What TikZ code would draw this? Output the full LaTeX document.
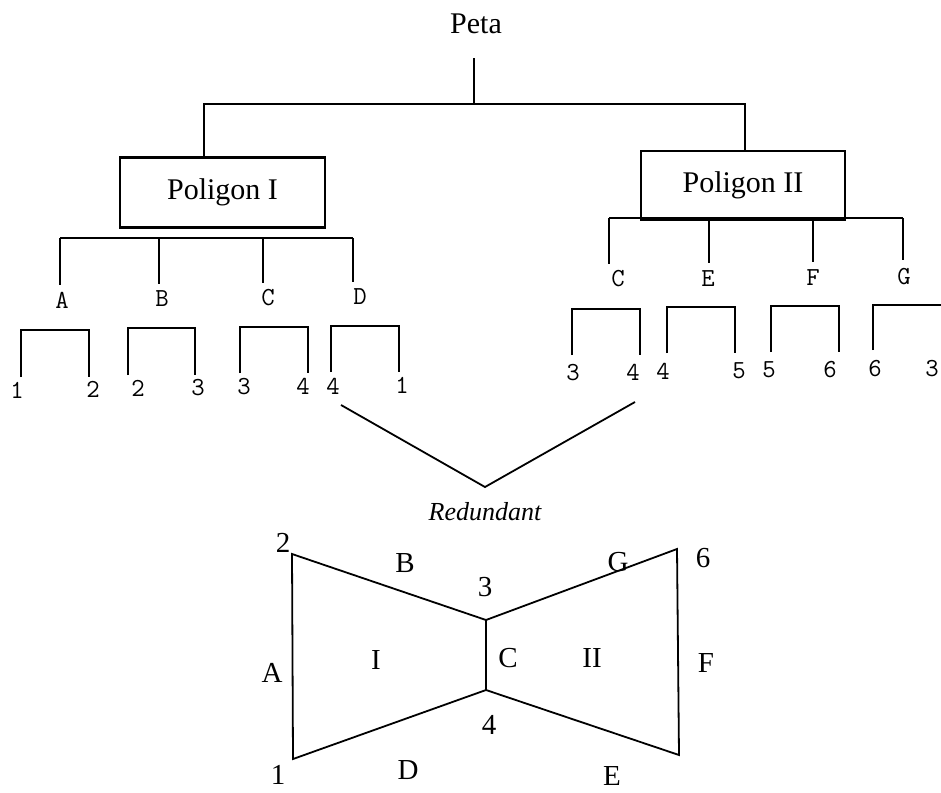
\documentclass[tikz,border=0pt]{standalone}
\usepackage{fontspec}
\setmainfont{Liberation Serif}
\begin{document}
\begin{tikzpicture}[x=1pt,y=-1pt,
  tree/.style={line width=2.2pt},
  edge/.style={line width=1.8pt, line join=miter},
  serif/.style={font=\fontsize{29}{31}\selectfont, inner sep=0pt},
  slant/.style={font=\itshape\fontsize{26}{28}\selectfont, inner sep=0pt},
  mono/.style={font=\ttfamily\fontsize{26}{28}\selectfont, inner sep=0pt},
  polybox/.style={draw, line width=2.2pt, minimum width=205pt, minimum height=70pt,
    font=\fontsize{30}{32}\selectfont}]
\useasboundingbox (0,0) rectangle (941,792);

% root and the two polygon boxes
\node[font=\fontsize{30}{32}\selectfont, inner sep=0pt] (peta) at (476,24) {Peta};
\node[polybox] (pI) at (222.5,192.5) {Poligon I};
\node[polybox, minimum width=204pt, minimum height=69pt] (pII) at (743,185.5) {Poligon II};
\coordinate (r0) at (474,58);
\coordinate (hub) at (474,104);
\coordinate (jl) at (204,104);
\coordinate (jr) at (745,104);
\draw[tree] (r0) -- (hub);
\draw[tree] (jl |- pI.north) -- (jl) -- (jr) -- (jr |- pII.north);

% edges of polygon I
\node[mono] (eA) at (62,300) {A};
\node[mono] (eB) at (162,299) {B};
\node[mono] (eC) at (268,298) {C};
\node[mono] (eD) at (360,297) {D};
\coordinate (hl) at (60,238);
\coordinate (hr) at (353,238);
\coordinate (vA) at (60,285);
\coordinate (vB) at (159,284);
\coordinate (vC) at (263,283);
\coordinate (vD) at (353,282);
\draw[tree] (hl) -- (hr);
\foreach \v in {vA,vB,vC,vD} \draw[tree] (\v |- hl) -- (\v);

% vertex pairs of polygon I
\node[mono] (a1) at (17,390) {1};
\node[mono] (a2) at (93,389) {2};
\node[mono] (b1) at (138,388) {2};
\node[mono] (b2) at (198,388) {3};
\node[mono] (c1) at (244,387) {3};
\node[mono] (c2) at (303,386) {4};
\node[mono] (d1) at (333,386) {4};
\node[mono] (d2) at (402,385) {1};
\coordinate (ka1) at (21,377);  \coordinate (ka2) at (89,377);
\coordinate (kb1) at (128,375); \coordinate (kb2) at (195,375);
\coordinate (kc1) at (240,373); \coordinate (kc2) at (308,373);
\coordinate (kd1) at (331,372); \coordinate (kd2) at (399,372);
\draw[tree] (ka1) -- ++(0,-47) -| (ka2);
\draw[tree] (kb1) -- ++(0,-47) -| (kb2);
\draw[tree] (kc1) -- ++(0,-46) -| (kc2);
\draw[tree] (kd1) -- ++(0,-46) -| (kd2);

% edges of polygon II
\node[mono] (fC) at (618,279) {C};
\node[mono] (fE) at (708,279) {E};
\node[mono] (fF) at (813,278) {F};
\node[mono] (fG) at (904,277) {G};
\coordinate (gl) at (609,218);
\coordinate (gr) at (903,218);
\coordinate (wC) at (609,264);
\coordinate (wE) at (709,263);
\coordinate (wF) at (813,262);
\coordinate (wG) at (903,260);
\draw[tree] (gl) -- (gr);
\foreach \v in {wC,wE,wF,wG} \draw[tree] (\v |- gl) -- (\v);

% vertex pairs of polygon II
\node[mono] (m1) at (573,373) {3};
\node[mono] (m2) at (633,372) {4};
\node[mono] (n1) at (663,371) {4};
\node[mono] (n2) at (739,371) {5};
\node[mono] (o1) at (769,370) {5};
\node[mono] (o2) at (830,370) {6};
\node[mono] (q1) at (875,369) {6};
\node[mono] (q2) at (932,369) {3};
\coordinate (km1) at (572,355); \coordinate (km2) at (640,355);
\coordinate (kn1) at (667,353); \coordinate (kn2) at (735,353);
\coordinate (ko1) at (771,352); \coordinate (ko2) at (839,352);
\coordinate (kq1) at (873,350); \coordinate (kq2) at (944,350);
\draw[tree] (km1) -- ++(0,-46) -| (km2);
\draw[tree] (kn1) -- ++(0,-46) -| (kn2);
\draw[tree] (ko1) -- ++(0,-46) -| (ko2);
\draw[tree] (kq1) -- ++(0,-45) -| (kq2);

% shared edge
\coordinate (rl) at (341,405);
\coordinate (rm) at (485,487);
\coordinate (rr) at (635,402);
\draw[edge] (rl) -- (rm) -- (rr);
\node[slant] (red) at (485,512) {Redundant};

% the two polygons
\coordinate (p1) at (293,759);
\coordinate (p2) at (292,554);
\coordinate (p3) at (486,620);
\coordinate (p4) at (486,690);
\coordinate (p5) at (679,755);
\coordinate (p6) at (677,549);
\draw[edge] (p2) -- (p3) -- (p6) -- (p5) -- (p4) -- (p1) -- cycle;
\draw[edge] (p3) -- (p4);

\node[serif] (l2) at (283,543) {2};
\node[serif] (lB) at (405,563) {B};
\node[serif] (l3) at (485,587) {3};
\node[serif] (lG) at (618,562) {G};
\node[serif] (l6) at (703,558) {6};
\node[serif] (lA) at (272,673) {A};
\node[serif] (lI) at (376,660) {I};
\node[serif] (lC) at (508,658) {C};
\node[serif] (lII) at (592,658) {II};
\node[serif] (lF) at (706,663) {F};
\node[serif] (l4) at (489,725) {4};
\node[serif] (lD) at (408,770) {D};
\node[serif] (l1) at (278,775) {1};
\node[serif] (lE) at (612,776) {E};
\end{tikzpicture}
\end{document}
